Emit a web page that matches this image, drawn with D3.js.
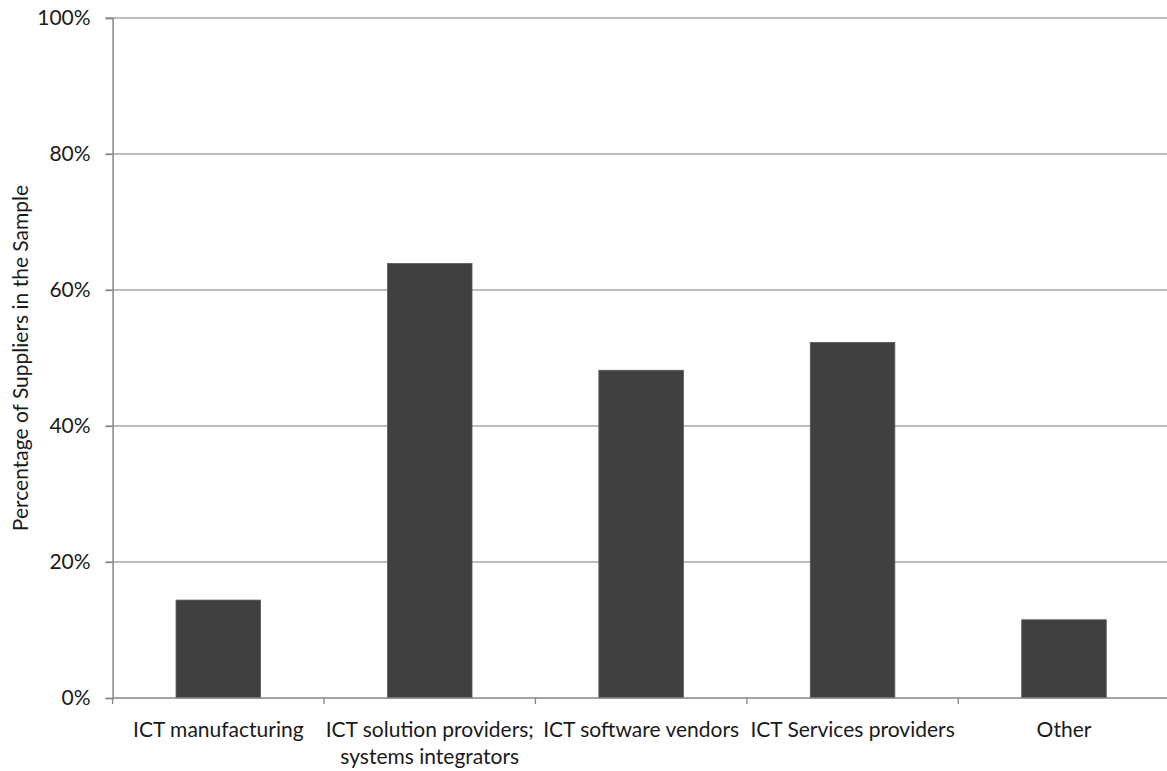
<!DOCTYPE html>
<html><head><meta charset="utf-8">
<script src="https://cdn.jsdelivr.net/npm/d3@7"></script>
<style>body{margin:0;background:#fff}svg{display:block}text{font-family:Lato,"Open Sans",sans-serif;fill:#1a1a1a}</style>
</head><body><svg id="c" width="1167" height="771"></svg>
<script>
const categories = [["ICT manufacturing"], ["ICT solution providers;", "systems integrators"], ["ICT software vendors"], ["ICT Services providers"], ["Other"]];
const values = [14.4, 63.9, 48.2, 52.3, 11.5];
const yTicks = [0, 20, 40, 60, 80, 100];
const yTitle = "Percentage of Suppliers in the Sample";

const FS = 21;
const svg = d3.select("#c");
const x0 = 112.6, x1 = 1169.7, yTop = 18, yBot = 698;
const keys = categories.map((c, i) => i);
const x = d3.scaleBand().domain(keys).range([x0, x1]).paddingInner(0.6).paddingOuter(0.3);
const xb = d3.scaleBand().domain(keys).range([x0, x1]).padding(0);
const y = d3.scaleLinear().domain([0, 100]).range([yBot, yTop]);

svg.append("g").selectAll("line").data(yTicks.filter(t => t > 0)).join("line")
  .attr("x1", x0 - 7).attr("x2", 1167).attr("y1", d => y(d)).attr("y2", d => y(d))
  .attr("stroke", "#a6a6a6").attr("stroke-width", 1.3);

const ya = svg.append("g").attr("transform", `translate(${x0},0)`)
  .call(d3.axisLeft(y).tickValues(yTicks).tickFormat(d => d + "%").tickSize(7).tickPadding(15));
ya.select(".domain").attr("stroke", "#868686").attr("stroke-width", 1.5);
ya.selectAll(".tick line").attr("stroke", "#868686").attr("stroke-width", 1.3);
ya.selectAll(".tick text").attr("font-size", FS).attr("fill", "#1a1a1a")
  .style("font-family", 'Lato,"Open Sans",sans-serif');

svg.append("g").selectAll("rect").data(values).join("rect")
  .attr("x", (d, i) => x(i)).attr("width", x.bandwidth())
  .attr("y", d => y(d)).attr("height", d => yBot - y(d))
  .attr("fill", "#404040").attr("stroke", "#5a5a5a").attr("stroke-width", 0.8);

svg.append("line").attr("x1", x0).attr("x2", 1167).attr("y1", yBot).attr("y2", yBot)
  .attr("stroke", "#868686").attr("stroke-width", 1.5);
svg.append("g").selectAll("line").data(keys.concat([5])).join("line")
  .attr("x1", d => d < 5 ? xb(d) : x1).attr("x2", d => d < 5 ? xb(d) : x1)
  .attr("y1", yBot).attr("y2", yBot + 6)
  .attr("stroke", "#868686").attr("stroke-width", 1.3);

const lab = svg.append("g").selectAll("text").data(categories).join("text")
  .attr("text-anchor", "middle").attr("font-size", FS)
  .attr("transform", (d, i) => `translate(${xb(i) + xb.bandwidth() / 2},737)`);
lab.selectAll("tspan").data(d => d).join("tspan")
  .attr("x", 0).attr("dy", (d, j) => j === 0 ? 0 : 27).text(d => d);

svg.append("text").attr("text-anchor", "middle").attr("font-size", FS)
  .attr("transform", `translate(28,358) rotate(-90)`).text(yTitle);
</script></body></html>
